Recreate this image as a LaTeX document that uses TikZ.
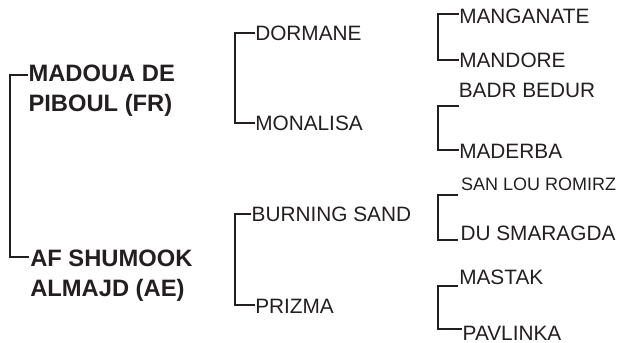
\documentclass[tikz,border=0pt]{standalone}
\usepackage{fontspec}
\setmainfont{Liberation Sans}
\definecolor{ink}{HTML}{231F20}

\begin{document}
\begin{tikzpicture}[x=0.75pt, y=-0.75pt,
	horse/.style={anchor=base west, inner sep=0pt, text=ink,
		font=\fontsize{15.6}{18}\selectfont},
	sire/.style={horse, align=left,
		font=\fontsize{17.8}{22.5}\selectfont\bfseries},
	small/.style={horse, font=\fontsize{13.5}{16}\selectfont},
	bracket/.style={draw=ink, line width=1.5pt}]
	\useasboundingbox (0,0) rectangle (629,343);
	% first generation (base is the second line)
	\node[sire] (madoua) at (28.3,111.7) {MADOUA DE\\PIBOUL (FR)};
	\node[sire] (shumook) at (30,296.7) {AF SHUMOOK\\ALMAJD (AE)};
	% second generation
	\node[horse] (dormane) at (255,40) {DORMANE};
	\node[horse] (monalisa) at (255,130) {MONALISA};
	\node[horse] (burning) at (251.4,221.7) {BURNING SAND};
	\node[horse] (prizma) at (255,313.3) {PRIZMA};
	% third generation
	\node[horse] (manganate) at (459,23.5) {MANGANATE};
	\node[horse] (mandore) at (459,67.7) {MANDORE};
	\node[horse] (badr) at (458.5,97.3) {BADR BEDUR};
	\node[horse] (maderba) at (459,158.3) {MADERBA};
	\node[small] (sanlou) at (460.8,190.5) {SAN LOU ROMIRZ};
	\node[horse] (smaragda) at (460.3,240) {DU SMARAGDA};
	\node[horse] (mastak) at (459,284) {MASTAK};
	\node[horse] (pavlinka) at (462.4,340) {PAVLINKA};
	% brackets
	\draw[bracket] ([shift={(0,-36.7)}]madoua.base west) -- ++(-18,0)
		|- ([shift={(-1,-39.7)}]shumook.base west);
	\draw[bracket] ([shift={(0,-7)}]dormane.base west) -- ++(-20,0)
		|- ([shift={(0,-7)}]monalisa.base west);
	\draw[bracket] ([shift={(0,-7.5)}]burning.base west) -- ++(-16.5,0)
		|- ([shift={(0,-8)}]prizma.base west);
	\draw[bracket] ([shift={(0,-9.5)}]manganate.base west) -- ++(-21,0)
		|- ([shift={(0,-7.7)}]mandore.base west);
	\draw[bracket] ([shift={(0,9)}]badr.base west) -- ++(-20.5,0)
		|- ([shift={(0,-8.3)}]maderba.base west);
	\draw[bracket] ([shift={(-2.5,4.5)}]sanlou.base west) -- ++(-20,0)
		|- ([shift={(-2,0)}]smaragda.base west);
	\draw[bracket] ([shift={(-1,2)}]mastak.base west) -- ++(-20,0)
		|- ([shift={(0,-11)}]pavlinka.base west);
\end{tikzpicture}
\end{document}
